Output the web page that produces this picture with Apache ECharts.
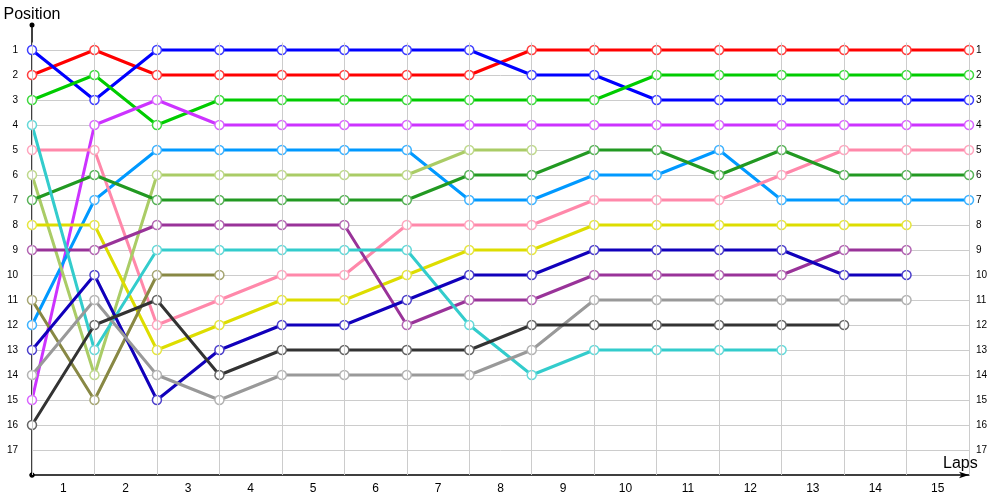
<!DOCTYPE html>
<html>
<head>
<meta charset="utf-8">
<script src="https://cdn.jsdelivr.net/npm/echarts@6/dist/echarts.min.js"></script>
<style>html,body{margin:0;padding:0;background:#fff}#c{width:1000px;height:500px}</style>
</head>
<body>
<div id="c"></div>
<script>
// Lap labels (between grid lines) and position ticks
var lapLabels = ['1','2','3','4','5','6','7','8','9','10','11','12','13','14','15'];
var positionTicks = [1,2,3,4,5,6,7,8,9,10,11,12,13,14,15,16,17];

// Position of each driver at lap boundaries 0..15
var redPos        = [2,1,2,2,2,2,2,2,1,1,1,1,1,1,1,1];
var bluePos       = [1,3,1,1,1,1,1,1,2,2,3,3,3,3,3,3];
var greenPos      = [3,2,4,3,3,3,3,3,3,3,2,2,2,2,2,2];
var magentaPos    = [15,4,3,4,4,4,4,4,4,4,4,4,4,4,4,4];
var lightBluePos  = [12,7,5,5,5,5,5,7,7,6,6,5,7,7,7,7];
var pinkPos       = [5,5,12,11,10,10,8,8,8,7,7,7,6,5,5,5];
var lightGreenPos = [6,14,6,6,6,6,6,5,5];
var darkGreenPos  = [7,6,7,7,7,7,7,6,6,5,5,6,5,6,6,6];
var yellowPos     = [8,8,13,12,11,11,10,9,9,8,8,8,8,8,8];
var purplePos     = [9,9,8,8,8,8,12,11,11,10,10,10,10,9,9];
var cyanPos       = [4,13,9,9,9,9,9,12,14,13,13,13,13];
var olivePos      = [11,15,10,10];
var darkBluePos   = [13,10,15,13,12,12,11,10,10,9,9,9,9,10,10];
var grayPos       = [14,11,14,15,14,14,14,14,13,11,11,11,11,11,11];
var darkPos       = [16,12,11,14,13,13,13,13,12,12,12,12,12,12];

var seriesDefs = [
  {data: redPos, color: '#ff0000'},
  {data: bluePos, color: '#0000ff'},
  {data: greenPos, color: '#00cc00'},
  {data: magentaPos, color: '#cc33ff'},
  {data: lightBluePos, color: '#0099ff'},
  {data: pinkPos, color: '#ff88aa'},
  {data: lightGreenPos, color: '#aacc66'},
  {data: darkGreenPos, color: '#229922'},
  {data: yellowPos, color: '#dddd00'},
  {data: purplePos, color: '#993399'},
  {data: cyanPos, color: '#33cccc'},
  {data: olivePos, color: '#888844'},
  {data: darkBluePos, color: '#1100bb'},
  {data: grayPos, color: '#999999'},
  {data: darkPos, color: '#333333'}
];

function lighten(hex, t) {
  var r = parseInt(hex.substr(1,2),16), g = parseInt(hex.substr(3,2),16), b = parseInt(hex.substr(5,2),16);
  r = Math.round(r + (255-r)*t); g = Math.round(g + (255-g)*t); b = Math.round(b + (255-b)*t);
  return 'rgb(' + r + ',' + g + ',' + b + ')';
}

var series = seriesDefs.map(function (s) {
  return {
    type: 'line',
    xAxisIndex: 0,
    yAxisIndex: 0,
    data: s.data.map(function (v, i) { return [i, v]; }),
    symbol: 'circle',
    symbolSize: 9,
    showAllSymbol: true,
    lineStyle: {color: s.color, width: 3},
    itemStyle: {color: '#ffffff', borderColor: lighten(s.color, 0.25), borderWidth: 1.5},
    emphasis: {disabled: true},
    z: 3
  };
});

// vertical grid lines at lap boundaries
var vLines = [];
for (var i = 0; i <= lapLabels.length; i++) {
  vLines.push([{coord: [i, 0.7]}, {coord: [i, 18]}]);
}
series.push({
  type: 'line', xAxisIndex: 0, yAxisIndex: 0, data: [], silent: true, z: 1,
  markLine: {silent: true, symbol: ['none','none'], label: {show: false},
    lineStyle: {color: '#cccccc', width: 1, type: 'solid'}, data: vLines, animation: false}
});

var labelFont = 'Liberation Sans';
var option = {
  animation: false,
  backgroundColor: '#ffffff',
  grid: {left: 32, right: 31, top: 25, bottom: 25, containLabel: false},
  xAxis: [
    {
      type: 'value', min: 0, max: lapLabels.length, interval: 1, position: 'bottom',
      name: 'Laps', nameLocation: 'end', nameGap: -26,
      nameTextStyle: {fontFamily: labelFont, fontSize: 16, color: '#000', align: 'left', verticalAlign: 'bottom', padding: [0,0,3,0]},
      axisLine: {show: true, onZero: false, lineStyle: {color: '#000', width: 1.5}, symbol: ['circle','arrow'], symbolSize: [5, 10]},
      axisTick: {show: false}, axisLabel: {show: false}, splitLine: {show: false}
    },
    {
      type: 'category', data: lapLabels, boundaryGap: true, position: 'bottom',
      axisLine: {show: false, onZero: false}, axisTick: {show: false}, splitLine: {show: false},
      axisLabel: {fontFamily: labelFont, fontSize: 12, color: '#000', margin: 8}
    }
  ],
  yAxis: [
    {
      type: 'value', inverse: true, min: 0, max: 18, interval: 1, position: 'left',
      name: 'Position', nameLocation: 'start', nameGap: 2,
      nameTextStyle: {fontFamily: labelFont, fontSize: 16, color: '#000', align: 'center', padding: [0,0,0,0]},
      axisLine: {show: true, onZero: false, lineStyle: {color: '#000', width: 1.5}, symbol: ['circle','circle'], symbolSize: [5,5]},
      axisTick: {show: false},
      axisLabel: {fontFamily: labelFont, fontSize: 10, color: '#000', margin: 14, showMinLabel: false, showMaxLabel: false},
      splitLine: {show: true, showMinLine: false, showMaxLine: false, lineStyle: {color: '#cccccc', width: 1}}
    },
    {
      type: 'value', inverse: true, min: 0, max: 18, interval: 1, position: 'right',
      axisLine: {show: false, onZero: false}, axisTick: {show: false},
      axisLabel: {fontFamily: labelFont, fontSize: 10, color: '#000', margin: 7, showMinLabel: false, showMaxLabel: false},
      splitLine: {show: false}
    }
  ],
  series: series
};

var chart = echarts.init(document.getElementById('c'), null, {renderer: 'canvas'});
chart.setOption(option);
</script>
</body>
</html>
